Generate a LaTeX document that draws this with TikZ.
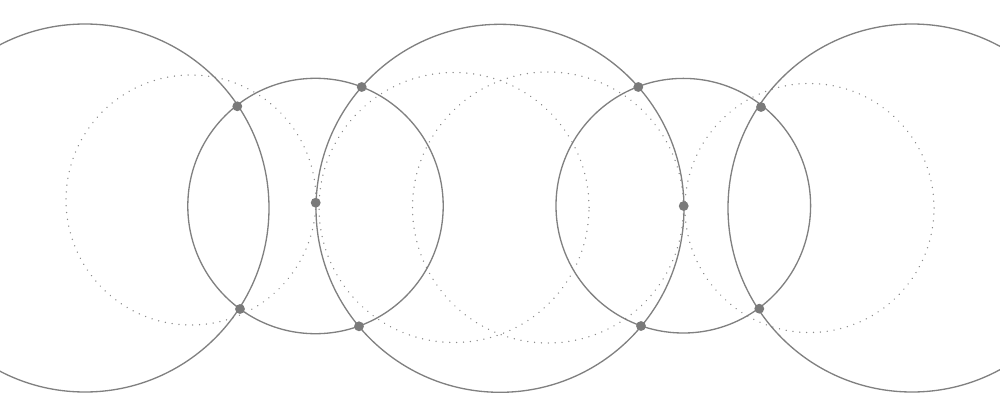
\documentclass[tikz,border=0pt]{standalone}
\begin{document}
\begin{tikzpicture}[x=0.02cm,y=0.02cm,
  ring/.style={draw=ringgray,line width=0.75pt},
  dotring/.style={draw=dotgray,line width=0.85pt,line cap=round,dash pattern=on 0.01pt off 3.9pt},
  joint/.style={circle,fill=jointgray,inner sep=0pt,minimum size=5.6pt}]
\definecolor{ringgray}{RGB}{128,128,128}
\definecolor{dotgray}{RGB}{140,140,140}
\definecolor{jointgray}{RGB}{122,122,122}
\useasboundingbox (0,0) rectangle (1000,417);
\fill[white] (0,0) rectangle (1000,417);
\clip (0,0) rectangle (1000,417);
% dotted circles
\draw[dotring] (191,217) circle[radius=125];
\draw[dotring] (454,209.5) circle[radius=135];
\draw[dotring] (548,209.5) circle[radius=135.5];
\draw[dotring] (809.5,209) circle[radius=124.5];
% large circles
\draw[ring] (85,209) circle[radius=184];
\draw[ring] (500,208.7) circle[radius=184];
\draw[ring] (912,209) circle[radius=184];
% medium circles
\draw[ring] (315.5,211) circle[radius=127.7];
\draw[ring] (683.3,211.3) circle[radius=127.3];
% intersection points
\node[joint] (p1) at (237.3,310.7) {};
\node[joint] (p2) at (240,108) {};
\node[joint] (p3) at (315.7,214.3) {};
\node[joint] (p4) at (361.7,330) {};
\node[joint] (p5) at (359,90.7) {};
\node[joint] (p6) at (638.3,330) {};
\node[joint] (p7) at (641,91) {};
\node[joint] (p8) at (683.7,211) {};
\node[joint] (p9) at (761,310) {};
\node[joint] (p10) at (759.3,108.3) {};
\end{tikzpicture}
\end{document}
